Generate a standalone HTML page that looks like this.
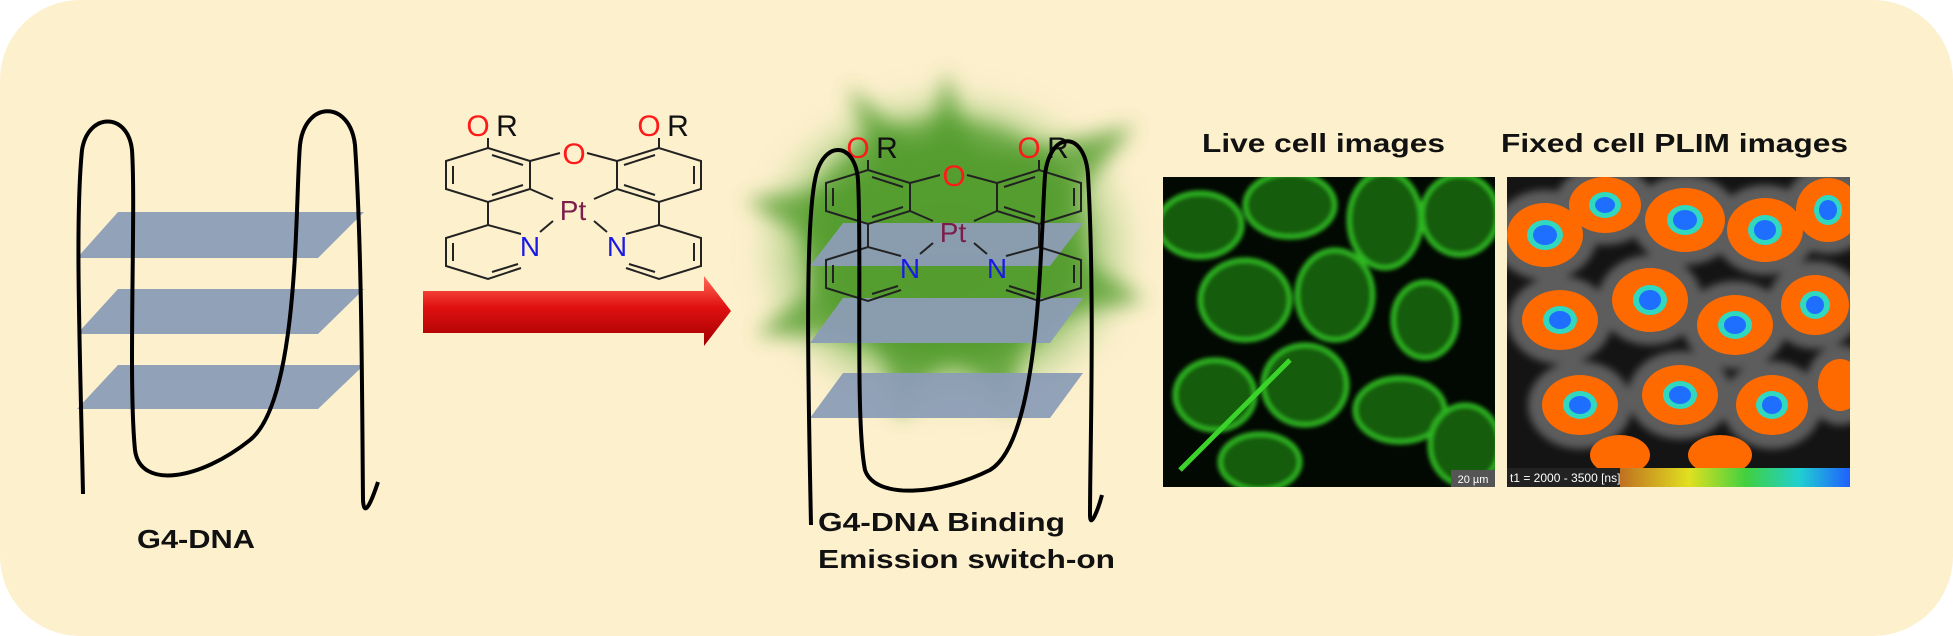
<!DOCTYPE html>
<html><head><meta charset="utf-8"><style>
html,body{margin:0;padding:0;background:#fff;}
svg{display:block;}
text{font-family:"Liberation Sans",Arial,sans-serif;}
</style></head><body>
<svg width="1953" height="636" viewBox="0 0 1953 636" xmlns="http://www.w3.org/2000/svg">
<defs>
<linearGradient id="arr" x1="0" y1="0" x2="0" y2="1">
<stop offset="0" stop-color="#ff6a55"/><stop offset="0.45" stop-color="#e01010"/><stop offset="1" stop-color="#a00000"/>
</linearGradient>
<radialGradient id="glow" cx="0.5" cy="0.5" r="0.5">
<stop offset="0" stop-color="#3f8f1e"/><stop offset="0.6" stop-color="#62a83c" stop-opacity="0.95"/><stop offset="1" stop-color="#b8d890" stop-opacity="0"/>
</radialGradient>
<filter id="b8"><feGaussianBlur stdDeviation="10"/></filter>
<filter id="b2"><feGaussianBlur stdDeviation="2"/></filter>
<filter id="b4"><feGaussianBlur stdDeviation="4"/></filter>
<linearGradient id="cbar" x1="0" y1="0" x2="1" y2="0">
<stop offset="0" stop-color="#c07020"/><stop offset="0.3" stop-color="#e0e020"/><stop offset="0.55" stop-color="#40d040"/><stop offset="0.78" stop-color="#20d0d0"/><stop offset="1" stop-color="#2060ff"/>
</linearGradient>
<g id="mol" fill="none" stroke="#222" stroke-width="2">
<polygon points="488,148 530,161 530,189 488,202 446,189 446,161"/>
<polygon points="659,148 617,161 617,189 659,202 701,189 701,161"/>
<line x1="453" y1="166" x2="453" y2="184"/><line x1="492" y1="195" x2="523" y2="185"/><line x1="492" y1="155" x2="523" y2="165"/>
<line x1="694" y1="166" x2="694" y2="184"/><line x1="655" y1="195" x2="624" y2="185"/><line x1="655" y1="155" x2="624" y2="165"/>
<polyline points="521,234 488,225 446,238 446,266 488,279 521,268"/>
<polyline points="626,234 659,225 701,238 701,266 659,279 626,268"/>
<line x1="453" y1="243" x2="453" y2="261"/><line x1="492" y1="272" x2="518" y2="264"/>
<line x1="694" y1="243" x2="694" y2="261"/><line x1="655" y1="272" x2="629" y2="264"/>
<line x1="488" y1="202" x2="488" y2="225"/><line x1="659" y1="202" x2="659" y2="225"/>
<line x1="488" y1="148" x2="488" y2="138"/><line x1="659" y1="148" x2="659" y2="138"/>
<line x1="530" y1="161" x2="560" y2="153"/><line x1="617" y1="161" x2="587" y2="153"/>
<line x1="530" y1="189" x2="553" y2="199"/><line x1="617" y1="189" x2="594" y2="199"/>
<line x1="540" y1="232" x2="553" y2="221"/><line x1="607" y1="232" x2="594" y2="221"/>
<text x="478" y="136" font-size="30" fill="#ff1a1a" stroke="none" text-anchor="middle">O</text>
<text x="507" y="136" font-size="30" fill="#111" stroke="none" text-anchor="middle">R</text>
<text x="649" y="136" font-size="30" fill="#ff1a1a" stroke="none" text-anchor="middle">O</text>
<text x="678" y="136" font-size="30" fill="#111" stroke="none" text-anchor="middle">R</text>
<text x="574" y="164" font-size="30" fill="#ff1a1a" stroke="none" text-anchor="middle">O</text>
<text x="573" y="220" font-size="28" fill="#7b1f4a" stroke="none" text-anchor="middle">Pt</text>
<text x="530" y="256" font-size="28" fill="#1a1ae6" stroke="none" text-anchor="middle">N</text>
<text x="617" y="256" font-size="28" fill="#1a1ae6" stroke="none" text-anchor="middle">N</text>
</g>
</defs>
<rect x="0" y="0" width="1953" height="636" rx="80" ry="80" fill="#fdf0cd"/>

<g fill="#8c9db6" opacity="0.95">
<polygon points="118,212 364,212 318,258 77,258"/>
<polygon points="118,289 364,289 318,334 77,334"/>
<polygon points="118,365 364,365 318,409 77,409"/>
</g>
<path d="M83,494 C80,350 75,220 82,150 C88,112 128,112 132,150 C136,210 128,380 135,450 C140,490 200,480 250,440 C300,400 295,200 300,145 C305,100 350,100 355,145 C362,250 362,400 363,500 C364,520 372,500 378,482" fill="none" stroke="#000" stroke-width="4"/>
<text x="137" y="548" font-size="26" font-weight="bold" fill="#111" textLength="118" lengthAdjust="spacingAndGlyphs">G4-DNA</text>

<use href="#mol"/>

<polygon points="423,291 704,291 704,276 731,311 704,346 704,333 423,333" fill="url(#arr)"/>

<ellipse cx="946" cy="250" rx="200" ry="170" fill="url(#glow)" filter="url(#b8)"/>
<polygon points="946,70 975,165 1135,125 1045,235 1145,300 1025,320 1010,415 950,345 900,420 880,335 755,335 848,262 745,200 880,182 848,85 925,158" fill="#5ea338" opacity="0.85" filter="url(#b8)"/>
<ellipse cx="946" cy="240" rx="140" ry="120" fill="#4f9a2a" opacity="0.6" filter="url(#b8)"/>

<g fill="#8c9db6" opacity="0.95">
<polygon points="843,223 1083,223 1050,266 810,266"/>
<polygon points="843,298 1083,298 1050,343 810,343"/>
<polygon points="843,373 1083,373 1050,418 810,418"/>
</g>
<use href="#mol" transform="translate(380,22)"/>
<path d="M811,525 C808,380 805,230 815,180 C822,140 855,140 858,180 C862,250 855,420 865,470 C875,500 940,495 990,470 C1040,440 1040,250 1045,175 C1050,130 1085,130 1088,175 C1095,300 1090,450 1090,515 C1090,530 1098,510 1102,495" fill="none" stroke="#000" stroke-width="4"/>
<text x="818" y="531" font-size="26" font-weight="bold" fill="#111" textLength="247" lengthAdjust="spacingAndGlyphs">G4-DNA Binding</text>
<text x="818" y="568" font-size="26" font-weight="bold" fill="#111" textLength="297" lengthAdjust="spacingAndGlyphs">Emission switch-on</text>

<text x="1202" y="152" font-size="26" font-weight="bold" fill="#111" textLength="243" lengthAdjust="spacingAndGlyphs">Live cell images</text>
<text x="1501" y="152" font-size="26" font-weight="bold" fill="#111" textLength="347" lengthAdjust="spacingAndGlyphs">Fixed cell PLIM images</text>

<svg x="1163" y="177" width="332" height="310" viewBox="1163 177 332 310">
<rect x="1163" y="177" width="332" height="310" fill="#020802"/>
<g fill="#175c10" stroke="#2fb823" stroke-width="5" filter="url(#b2)">
<ellipse cx="1200" cy="225" rx="42" ry="32"/><ellipse cx="1290" cy="205" rx="45" ry="32"/>
<ellipse cx="1385" cy="220" rx="36" ry="48"/><ellipse cx="1460" cy="215" rx="38" ry="40"/>
<ellipse cx="1245" cy="300" rx="45" ry="40"/><ellipse cx="1335" cy="295" rx="38" ry="45"/>
<ellipse cx="1425" cy="320" rx="32" ry="38"/><ellipse cx="1215" cy="395" rx="40" ry="35"/>
<ellipse cx="1305" cy="385" rx="42" ry="40"/><ellipse cx="1400" cy="410" rx="45" ry="32"/>
<ellipse cx="1260" cy="462" rx="40" ry="28"/><ellipse cx="1465" cy="445" rx="35" ry="40"/>
</g>
<line x1="1180" y1="470" x2="1290" y2="360" stroke="#3ad42a" stroke-width="5"/>
<rect x="1451" y="470" width="44" height="17" fill="#555"/>
<text x="1473" y="483" font-size="11" fill="#fff" text-anchor="middle">20 µm</text>
</svg>

<svg x="1507" y="177" width="343" height="310" viewBox="1507 177 343 310">
<rect x="1507" y="177" width="343" height="310" fill="#141414"/>
<g fill="#9a9a9a" opacity="0.55" filter="url(#b4)">
<ellipse cx="1545" cy="235" rx="52" ry="45"/><ellipse cx="1605" cy="205" rx="50" ry="40"/><ellipse cx="1685" cy="220" rx="54" ry="45"/><ellipse cx="1765" cy="230" rx="52" ry="45"/><ellipse cx="1828" cy="210" rx="44" ry="44"/>
<ellipse cx="1560" cy="320" rx="52" ry="44"/><ellipse cx="1650" cy="300" rx="52" ry="45"/><ellipse cx="1735" cy="325" rx="52" ry="44"/><ellipse cx="1815" cy="305" rx="48" ry="44"/>
<ellipse cx="1580" cy="405" rx="52" ry="44"/><ellipse cx="1680" cy="395" rx="52" ry="44"/><ellipse cx="1772" cy="405" rx="50" ry="44"/><ellipse cx="1840" cy="385" rx="34" ry="40"/>
</g>
<g fill="#ff6a00">
<ellipse cx="1545" cy="235" rx="38" ry="32"/><ellipse cx="1605" cy="205" rx="36" ry="28"/><ellipse cx="1685" cy="220" rx="40" ry="32"/><ellipse cx="1765" cy="230" rx="38" ry="32"/><ellipse cx="1828" cy="210" rx="32" ry="32"/>
<ellipse cx="1560" cy="320" rx="38" ry="30"/><ellipse cx="1650" cy="300" rx="38" ry="32"/><ellipse cx="1735" cy="325" rx="38" ry="30"/><ellipse cx="1815" cy="305" rx="34" ry="30"/>
<ellipse cx="1580" cy="405" rx="38" ry="30"/><ellipse cx="1680" cy="395" rx="38" ry="30"/><ellipse cx="1772" cy="405" rx="36" ry="30"/><ellipse cx="1840" cy="385" rx="22" ry="26"/>
<ellipse cx="1620" cy="455" rx="30" ry="20"/><ellipse cx="1720" cy="455" rx="32" ry="20"/>
</g>
<g fill="#30d8c0">
<ellipse cx="1545" cy="235" rx="18" ry="15"/><ellipse cx="1605" cy="205" rx="16" ry="13"/><ellipse cx="1685" cy="220" rx="18" ry="15"/><ellipse cx="1765" cy="230" rx="17" ry="15"/><ellipse cx="1828" cy="210" rx="14" ry="15"/>
<ellipse cx="1560" cy="320" rx="17" ry="14"/><ellipse cx="1650" cy="300" rx="17" ry="15"/><ellipse cx="1735" cy="325" rx="17" ry="14"/><ellipse cx="1815" cy="305" rx="15" ry="14"/>
<ellipse cx="1580" cy="405" rx="17" ry="14"/><ellipse cx="1680" cy="395" rx="17" ry="14"/><ellipse cx="1772" cy="405" rx="16" ry="14"/>
</g>
<g fill="#1e6fff">
<ellipse cx="1545" cy="235" rx="12" ry="10"/><ellipse cx="1605" cy="205" rx="10" ry="8"/><ellipse cx="1685" cy="220" rx="12" ry="10"/><ellipse cx="1765" cy="230" rx="11" ry="10"/><ellipse cx="1828" cy="210" rx="9" ry="10"/>
<ellipse cx="1560" cy="320" rx="11" ry="9"/><ellipse cx="1650" cy="300" rx="11" ry="10"/><ellipse cx="1735" cy="325" rx="11" ry="9"/><ellipse cx="1815" cy="305" rx="9" ry="9"/>
<ellipse cx="1580" cy="405" rx="11" ry="9"/><ellipse cx="1680" cy="395" rx="11" ry="9"/><ellipse cx="1772" cy="405" rx="10" ry="9"/>
</g>
<rect x="1507" y="468" width="343" height="19" fill="#222"/>
<rect x="1620" y="468" width="230" height="19" fill="url(#cbar)"/>
<text x="1510" y="482" font-size="12" fill="#fff">t1 = 2000 - 3500 [ns]</text>
</svg>
</svg>
</body></html>
